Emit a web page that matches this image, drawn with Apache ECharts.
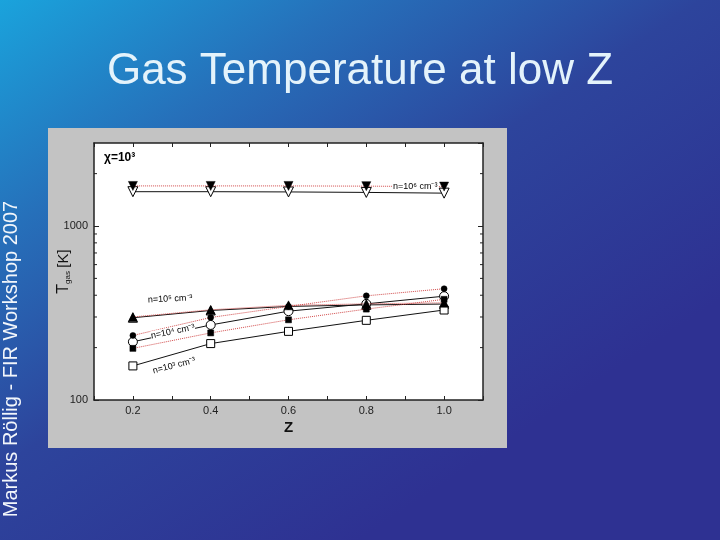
<!DOCTYPE html>
<html>
<head>
<meta charset="utf-8">
<style>html,body{margin:0;padding:0;background:#2e3192;}#c{width:720px;height:540px;}</style>
<script src="https://cdn.jsdelivr.net/npm/echarts@6/dist/echarts.min.js"></script>
</head>
<body>
<div id="c"></div>
<script>
const zValues = [0.2, 0.4, 0.6, 0.8, 1.0];
const n6Filled = [1700, 1700, 1700, 1695, 1685];
const n6Open = [1575, 1575, 1570, 1560, 1545];
const n5Filled = [300, 330, 350, 357, 362];
const n5Open = [297, 327, 345, 352, 356];
const n4Filled = [235, 298, 345, 397, 436];
const n4Open = [216, 270, 324, 357, 395];
const n3Filled = [198, 243, 289, 333, 379];
const n3Open = [157, 211, 248, 287, 329];
const yLabelValues = [100, 1000];
const yMinorTicks = [200, 300, 400, 500, 600, 700, 800, 900, 2000];

const FONT = 'Liberation Sans';
const chart = echarts.init(document.getElementById('c'));

function pts(arr) { return zValues.map((z, i) => [z, arr[i]]); }

function mk(name, arr, symbol, size, filled, dotted, rotate) {
  return {
    name: name, type: 'line', data: pts(arr),
    symbol: symbol, symbolSize: size, symbolRotate: rotate || 0,
    showAllSymbol: true,
    itemStyle: filled ? { color: '#000', borderColor: '#000', borderWidth: 0.5 }
                      : { color: '#fff', borderColor: '#000', borderWidth: 1 },
    lineStyle: dotted ? { color: '#d24a4a', width: 1, type: 'dotted' }
                      : { color: '#111', width: 1, type: 'solid' },
    z: filled ? 4 : 3,
    animation: false
  };
}

const option = {
  backgroundColor: new echarts.graphic.LinearGradient(0, 0, 0.5, 1, [
    { offset: 0, color: '#1aa3dc' },
    { offset: 0.3, color: '#2670ba' },
    { offset: 0.6, color: '#2d449c' },
    { offset: 1, color: '#2e3192' }
  ]),
  animation: false,
  title: {
    text: 'Gas Temperature at low Z',
    left: 'center', top: 45,
    textStyle: { color: '#e4f3fb', fontSize: 44, fontWeight: 'normal', fontFamily: FONT }
  },
  graphic: [
    { type: 'rect', z: -1, shape: { x: 48, y: 128, width: 459, height: 320 }, style: { fill: '#c3c3c3' } },
    { type: 'text', x: 11, y: 359, rotation: Math.PI / 2,
      style: { text: 'Markus Röllig - FIR Workshop 2007', fill: '#f2f6fb', font: '20px "Liberation Sans"', align: 'center', verticalAlign: 'middle' } },
    { type: 'text', x: 104, y: 158, z: 10,
      style: { text: 'χ=10³', fill: '#000', font: 'bold 12px "Liberation Sans"', verticalAlign: 'middle' } },
    { type: 'text', x: 392, y: 187, z: 10,
      style: { text: 'n=10⁶ cm⁻³', fill: '#000', font: '9px "Liberation Sans"', verticalAlign: 'middle', backgroundColor: '#fff', padding: [0, 1] } },
    { type: 'text', x: 148, y: 300, z: 10, rotation: 0.05,
      style: { text: 'n=10⁵ cm⁻³', fill: '#000', font: '9px "Liberation Sans"', verticalAlign: 'middle' } },
    { type: 'text', x: 151, y: 336, z: 10, rotation: 0.2,
      style: { text: 'n=10⁴ cm⁻³', fill: '#000', font: '9px "Liberation Sans"', verticalAlign: 'middle', backgroundColor: '#fff' } },
    { type: 'text', x: 153, y: 371, z: 10, rotation: 0.25,
      style: { text: 'n=10³ cm⁻³', fill: '#000', font: '9px "Liberation Sans"', verticalAlign: 'middle' } }
  ],
  grid: { left: 94, right: 237, top: 143, bottom: 140, show: true, backgroundColor: '#ffffff', borderWidth: 0 },
  xAxis: [
    {
      type: 'value', min: 0.1, max: 1.1, interval: 0.1, position: 'bottom',
      name: 'Z', nameLocation: 'middle', nameGap: 20,
      nameTextStyle: { fontFamily: FONT, fontSize: 15, fontWeight: 'bold', color: '#111' },
      axisLine: { show: true, onZero: false, lineStyle: { color: '#222', width: 1.5 } },
      axisTick: { show: true, inside: true, length: 4, lineStyle: { color: '#222' } },
      axisLabel: {
        fontFamily: FONT, fontSize: 11, color: '#222', margin: 5,
        formatter: function (v) { const t = Math.round(v * 10); return (t % 2 === 0) ? (t / 10).toFixed(1) : ''; }
      },
      splitLine: { show: false }
    },
    {
      type: 'value', min: 0.1, max: 1.1, interval: 0.1, position: 'top',
      axisLine: { show: true, onZero: false, lineStyle: { color: '#222', width: 1.5 } },
      axisTick: { show: true, inside: true, length: 4, lineStyle: { color: '#222' } },
      axisLabel: { show: false }, splitLine: { show: false }
    }
  ],
  yAxis: [
    {
      type: 'log', logBase: 10, min: 100, max: 3000, position: 'left',
      name: '{t|T}{s|gas} {k|[K]}', nameLocation: 'middle', nameGap: 22, nameRotate: 90,
      nameMoveOverlap: false,
      nameTextStyle: {
        color: '#111', fontFamily: FONT,
        rich: {
          t: { fontSize: 16, fontFamily: FONT, color: '#111', verticalAlign: 'bottom' },
          s: { fontSize: 8, fontFamily: FONT, color: '#111', verticalAlign: 'bottom' },
          k: { fontSize: 15, fontFamily: FONT, color: '#111' }
        }
      },
      axisLine: { show: true, onZero: false, lineStyle: { color: '#222', width: 1.5 } },
      axisTick: { show: true, inside: true, length: 5, lineStyle: { color: '#222' } },
      axisLabel: {
        fontFamily: FONT, fontSize: 11, color: '#222', margin: 6, showMaxLabel: false,
        formatter: function (v) {
          for (const l of yLabelValues) { if (Math.abs(v - l) < 0.5) return String(l); }
          return '';
        }
      },
      splitLine: { show: false }
    },
    {
      type: 'log', logBase: 10, min: 100, max: 3000, position: 'right',
      axisLine: { show: true, onZero: false, lineStyle: { color: '#222', width: 1.5 } },
      axisTick: { show: true, inside: true, length: 5, lineStyle: { color: '#222' } },
      axisLabel: { show: false }, splitLine: { show: false }
    }
  ],
  series: [
    mk('n6 filled', n6Filled, 'triangle', 9, true, true, 180),
    mk('n6 open', n6Open, 'triangle', 10, false, false, 180),
    mk('n5 open', n5Open, 'triangle', 9, false, false, 0),
    mk('n5 filled', n5Filled, 'triangle', 9, true, true, 0),
    mk('n4 open', n4Open, 'circle', 9, false, false, 0),
    mk('n4 filled', n4Filled, 'circle', 6, true, true, 0),
    mk('n3 open', n3Open, 'rect', 8, false, false, 0),
    mk('n3 filled', n3Filled, 'rect', 6, true, true, 0),
    {
      type: 'custom', name: 'minor y ticks', silent: true, z: 5,
      data: yMinorTicks.map(v => [v]),
      renderItem: function (params, api) {
        const v = api.value(0);
        const l = api.coord([0.1, v]);
        const r = api.coord([1.1, v]);
        const st = { stroke: '#222', lineWidth: 1 };
        return {
          type: 'group', children: [
            { type: 'line', shape: { x1: l[0], y1: l[1], x2: l[0] + 3, y2: l[1] }, style: st },
            { type: 'line', shape: { x1: r[0] - 3, y1: r[1], x2: r[0], y2: r[1] }, style: st }
          ]
        };
      },
      encode: { y: 0 },
      animation: false
    }
  ]
};
chart.setOption(option);
</script>
</body>
</html>
